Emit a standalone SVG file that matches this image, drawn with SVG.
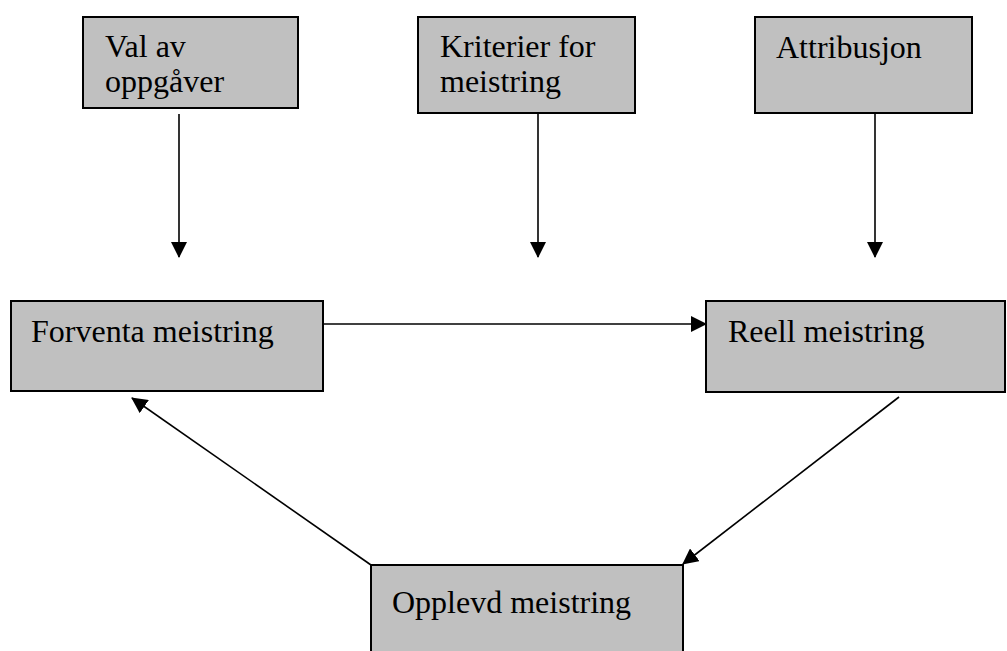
<svg xmlns="http://www.w3.org/2000/svg" width="1007" height="651" viewBox="0 0 1007 651">
<defs>
<style>
.box{fill:#c0c0c0;stroke:#000;stroke-width:2}
.lbl{font-family:"Liberation Serif","Times New Roman",serif;font-size:32px;fill:#000}
.con{stroke:#000;stroke-width:1.6;fill:none;marker-end:url(#ah)}
</style>
<marker id="ah" viewBox="0 0 16 16" refX="15" refY="8" markerWidth="16" markerHeight="16" markerUnits="userSpaceOnUse" orient="auto">
<path d="M0,0 L16,8 L0,16 z" fill="#000"/>
</marker>
</defs>
<rect width="1007" height="651" fill="#fff"/>
<g id="connectors">
<line class="con" x1="179" y1="114" x2="179" y2="257"/>
<line class="con" x1="538" y1="114" x2="538" y2="257"/>
<line class="con" x1="875" y1="114" x2="875" y2="257"/>
<line class="con" x1="323" y1="324" x2="706" y2="324"/>
<line class="con" x1="899" y1="397" x2="683" y2="564"/>
<line class="con" x1="371" y1="565" x2="132" y2="398"/>
</g>
<g id="val">
<rect class="box" x="83" y="17" width="215" height="91"/>
<text class="lbl" x="105" y="57">Val av</text>
<text class="lbl" x="105" y="92">oppgåver</text>
</g>
<g id="kriterier">
<rect class="box" x="418" y="17" width="217" height="96"/>
<text class="lbl" x="440" y="57">Kriterier for</text>
<text class="lbl" x="440" y="92">meistring</text>
</g>
<g id="attribusjon">
<rect class="box" x="755" y="17" width="217" height="96"/>
<text class="lbl" x="776" y="58">Attribusjon</text>
</g>
<g id="forventa">
<rect class="box" x="11" y="301" width="312" height="90"/>
<text class="lbl" x="31" y="342">Forventa meistring</text>
</g>
<g id="reell">
<rect class="box" x="706" y="301" width="299" height="91"/>
<text class="lbl" x="728" y="342">Reell meistring</text>
</g>
<g id="opplevd">
<rect class="box" x="371" y="565" width="312" height="100"/>
<text class="lbl" x="392" y="613">Opplevd meistring</text>
</g>
</svg>
